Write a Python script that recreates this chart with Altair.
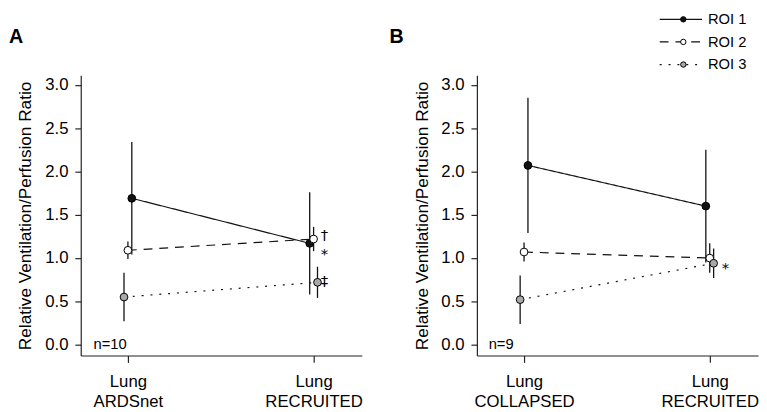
import json
import altair as alt
import pandas as pd

# ---------------- data ----------------
roi_names = ["ROI 1", "ROI 2", "ROI 3"]
roi_fills = ["#111111", "#ffffff", "#a9a9a9"]
roi_dashes = [[1, 0], [9, 7], [2, 7]]

y_title = "Relative Ventilation/Perfusion Ratio"
y_ticks = [0.0, 0.5, 1.0, 1.5, 2.0, 2.5, 3.0]

# Panel A
a_letter = "A"
a_n = "n=10"
a_conditions = [["Lung", "ARDSnet"], ["Lung", "RECRUITED"]]
a_roi1_mean = [1.69, 1.17]
a_roi1_err = [0.65, 0.59]
a_roi2_mean = [1.09, 1.22]
a_roi2_err = [0.10, 0.14]
a_roi3_mean = [0.55, 0.72]
a_roi3_err = [0.28, 0.18]
a_annot_sym = ["\u2020", "*", "\u2021"]
a_annot_y = [1.27, 1.05, 0.73]

# Panel B
b_letter = "B"
b_n = "n=9"
b_conditions = [["Lung", "COLLAPSED"], ["Lung", "RECRUITED"]]
b_roi1_mean = [2.07, 1.60]
b_roi1_err = [0.78, 0.65]
b_roi2_mean = [1.07, 1.00]
b_roi2_err = [0.11, 0.17]
b_roi3_mean = [0.52, 0.94]
b_roi3_err = [0.28, 0.17]
b_annot_sym = ["*"]
b_annot_y = [0.89]

# ---------------- styling ----------------
W, H = 286, 285
X_DOMAIN = [0.746, 2.26]
Y_DOMAIN = [-0.125, 3.11]
DODGE = 0.021
FONT = "Liberation Sans"
INK = "#111111"

dash_scale = alt.Scale(domain=roi_names, range=roi_dashes)
fill_scale = alt.Scale(domain=roi_names, range=roi_fills)


def make_df(means, errs):
    rows = []
    for r, (m, e) in enumerate(zip(means, errs)):
        for p in range(2):
            sign = 1 if p == 0 else -1
            rows.append({
                "roi": roi_names[r],
                "pos": p + 1,
                "xd": p + 1 + (1 - r) * DODGE * sign,
                "mean": m[p],
                "lo": m[p] - e[p],
                "hi": m[p] + e[p],
            })
    return pd.DataFrame(rows)


def panel(letter, nlab, conds, means, errs, ann_sym, ann_y, ann_dx,
          letter_x, n_x, legend=False):
    df = make_df(means, errs)
    label_expr = "datum.value == 1 ? %s : %s" % (json.dumps(conds[0]), json.dumps(conds[1]))
    xax = alt.Axis(values=[1, 2], labelExpr=label_expr, title=None, tickSize=7,
                   labelPadding=12, labelLineHeight=20, labelFontSize=17)
    yax = alt.Axis(values=y_ticks, format=".1f", title=y_title, tickSize=6,
                   labelPadding=7, titlePadding=10, labelFontSize=17,
                   titleFontSize=17.5, titleFontWeight="normal")
    xs = alt.Scale(domain=X_DOMAIN, nice=False, zero=False)
    ys = alt.Scale(domain=Y_DOMAIN, nice=False, zero=False)
    X = alt.X("xd:Q", scale=xs, axis=xax)
    base = alt.Chart(df)

    rules = base.mark_rule(color=INK, strokeWidth=1.3).encode(
        x=X, y=alt.Y("lo:Q", scale=ys, axis=yax), y2="hi:Q")
    lines = base.mark_line(color=INK, strokeWidth=1.2).encode(
        x=X, y=alt.Y("mean:Q", scale=ys, axis=yax),
        strokeDash=alt.StrokeDash("roi:N", scale=dash_scale, legend=None))
    points = base.mark_circle(size=62, stroke="#000", strokeWidth=1, opacity=1).encode(
        x=X, y=alt.Y("mean:Q", scale=ys, axis=yax),
        fill=alt.Fill("roi:N", scale=fill_scale, legend=None))

    ann_df = pd.DataFrame({"sym": ann_sym, "y": ann_y, "x": [2] * len(ann_sym)})
    ann = alt.Chart(ann_df).mark_text(fontSize=15, font="DejaVu Sans", align="center",
                                      baseline="middle", dx=ann_dx, color="#000",
                                      fill="#000").encode(
        x=alt.X("x:Q", scale=xs, axis=xax), y=alt.Y("y:Q", scale=ys, axis=yax), text="sym:N")

    lab_df = pd.DataFrame({"letter": [letter], "n": [nlab]})
    let = alt.Chart(lab_df).mark_text(fontSize=20, fontWeight="bold", font=FONT,
                                      align="left", baseline="alphabetic", color="#000").encode(
        x=alt.value(letter_x), y=alt.value(-33), text="letter:N")
    ntxt = alt.Chart(lab_df).mark_text(fontSize=15, font=FONT, align="left",
                                       baseline="middle", color="#000").encode(
        x=alt.value(n_x), y=alt.value(273), text="n:N")

    main = alt.layer(rules, lines, points, ann, let, ntxt)
    if not legend:
        return main.properties(width=W, height=H)

    leg_df = pd.DataFrame({"roi": roi_names})
    ly = alt.Y("roi:N", scale=alt.Scale(type="point", domain=roi_names,
                                        range=[-57, -11], padding=0),
               axis=None)
    lrule = alt.Chart(leg_df).mark_rule(color=INK, strokeWidth=1.2).encode(
        x=alt.value(186), x2=alt.value(229), y=ly,
        strokeDash=alt.StrokeDash("roi:N", scale=dash_scale, legend=None))
    lpt = alt.Chart(leg_df).mark_circle(size=30, stroke="#000", strokeWidth=1, opacity=1).encode(
        x=alt.value(210), y=ly, fill=alt.Fill("roi:N", scale=fill_scale, legend=None))
    ltxt = alt.Chart(leg_df).mark_text(fontSize=15, font=FONT, align="left",
                                       baseline="middle", color="#000").encode(
        x=alt.value(235), y=ly, text="roi:N")
    leg = alt.layer(lrule, lpt, ltxt)
    return alt.layer(main, leg).resolve_scale(y="independent").properties(width=W, height=H)


pA = panel(a_letter, a_n, a_conditions,
           [a_roi1_mean, a_roi2_mean, a_roi3_mean], [a_roi1_err, a_roi2_err, a_roi3_err],
           a_annot_sym, a_annot_y, 11, -73, 13)
pB = panel(b_letter, b_n, b_conditions,
           [b_roi1_mean, b_roi2_mean, b_roi3_mean], [b_roi1_err, b_roi2_err, b_roi3_err],
           b_annot_sym, b_annot_y, 16, -89, 12, legend=True)

chart = alt.hconcat(pA, pB, spacing=26).properties(
    padding={"left": 0, "top": 0, "right": 0, "bottom": 0}
).configure_view(stroke="transparent").configure_axis(
    grid=False, domainColor="#222", tickColor="#222", domainWidth=1.2, tickWidth=1.2,
    labelColor="#000", titleColor="#000", labelFont=FONT, titleFont=FONT,
)

chart.save("out.html", embed_options={"renderer": "svg", "actions": False})
